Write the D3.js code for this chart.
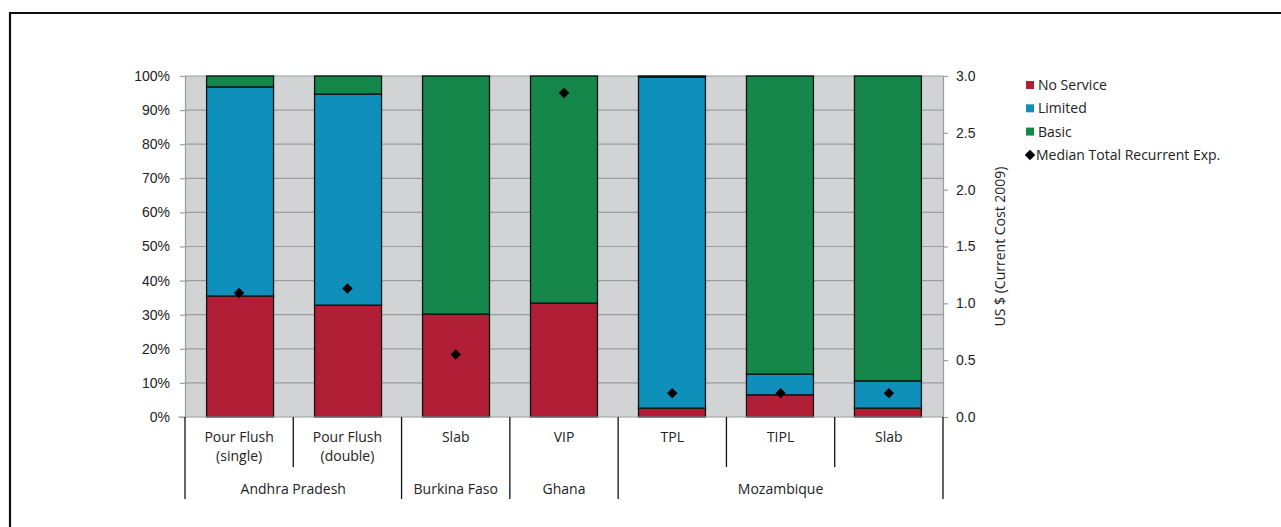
<!DOCTYPE html>
<html>
<head>
<meta charset="utf-8">
<script src="https://cdn.jsdelivr.net/npm/d3@7"></script>
<style>
  html, body { margin: 0; padding: 0; background: #fff; }
  svg { display: block; font-family: "Open Sans", "Noto Sans", sans-serif; }
</style>
</head>
<body>
<svg id="chart" width="1281" height="527"></svg>
<script>
// Sanitation service levels by latrine type, with median recurrent expenditure
const categories = ["Pour Flush\n(single)", "Pour Flush\n(double)", "Slab", "VIP", "TPL", "TIPL", "Slab"];
const regions = [
  { name: "Andhra Pradesh", from: 0, to: 2 },
  { name: "Burkina Faso", from: 2, to: 3 },
  { name: "Ghana", from: 3, to: 4 },
  { name: "Mozambique", from: 4, to: 7 }
];
const noService = [35.5, 32.8, 30.2, 33.4, 2.6, 6.5, 2.6];
const limited   = [61.3, 61.9, 0, 0, 97.1, 6.1, 8.0];
const basic     = [3.2, 5.3, 69.8, 66.6, 0.3, 87.4, 89.4];
const medianExp = [1.09, 1.13, 0.55, 2.85, 0.21, 0.21, 0.21];

const pctTicks = [0, 10, 20, 30, 40, 50, 60, 70, 80, 90, 100];
const usdTicks = [0, 0.5, 1.0, 1.5, 2.0, 2.5, 3.0];

const seriesNames = ["No Service", "Limited", "Basic"];
const colors = { "No Service": "#b01f36", "Limited": "#0f90ba", "Basic": "#15874a" };

const FS = 14;
const svg = d3.select("#chart");

// outer frame (top and left edges)
svg.append("path")
  .attr("d", "M10,527 V13 H1281")
  .attr("fill", "none").attr("stroke", "#111").attr("stroke-width", 2.2);

const plot = { left: 185, right: 943, top: 76, bottom: 417 };

const x = d3.scaleBand().domain(d3.range(categories.length))
  .range([plot.left, plot.right]).paddingInner(0.38).paddingOuter(0.2);
const xBand = d3.scaleBand().domain(d3.range(categories.length))
  .range([plot.left, plot.right]);
const yPct = d3.scaleLinear().domain([0, 100]).range([plot.bottom, plot.top]);
const yUsd = d3.scaleLinear().domain([0, 3]).range([plot.bottom, plot.top]);

// plot background
svg.append("rect")
  .attr("x", plot.left).attr("y", plot.top)
  .attr("width", plot.right - plot.left).attr("height", plot.bottom - plot.top)
  .attr("fill", "#d2d3d5");

// gridlines
svg.append("g").selectAll("line").data(pctTicks.filter(d => d > 0))
  .join("line")
  .attr("x1", plot.left).attr("x2", plot.right)
  .attr("y1", d => yPct(d)).attr("y2", d => yPct(d))
  .attr("stroke", "#9c9d9f").attr("stroke-width", 1.2);

// stacked bars
const rows = categories.map((c, i) => ({
  i, "No Service": noService[i], "Limited": limited[i], "Basic": basic[i]
}));
const stacked = d3.stack().keys(seriesNames)(rows);

svg.append("g").selectAll("g").data(stacked).join("g")
  .attr("fill", s => colors[s.key])
  .selectAll("rect").data(s => s.filter(d => d[1] - d[0] > 0))
  .join("rect")
  .attr("x", d => x(d.data.i))
  .attr("width", x.bandwidth())
  .attr("y", d => yPct(d[1]))
  .attr("height", d => yPct(d[0]) - yPct(d[1]))
  .attr("stroke", "#111").attr("stroke-width", 1.3);

// left axis
const leftAxis = svg.append("g").attr("transform", `translate(${plot.left},0)`)
  .call(d3.axisLeft(yPct).tickValues(pctTicks).tickFormat(d => d + "%").tickSize(5).tickPadding(10));
leftAxis.select(".domain").attr("stroke", "#9c9d9f").attr("stroke-width", 1.2);
leftAxis.selectAll(".tick line").attr("stroke", "#9c9d9f").attr("stroke-width", 1.2);
leftAxis.selectAll("text").attr("font-size", FS).attr("fill", "#222");

// right axis
const rightAxis = svg.append("g").attr("transform", `translate(${plot.right},0)`)
  .call(d3.axisRight(yUsd).tickValues(usdTicks).tickFormat(d3.format(".1f")).tickSize(5).tickPadding(8));
rightAxis.select(".domain").attr("stroke", "#9c9d9f").attr("stroke-width", 1.2);
rightAxis.selectAll(".tick line").attr("stroke", "#9c9d9f").attr("stroke-width", 1.2);
rightAxis.selectAll("text").attr("font-size", FS).attr("fill", "#222");

svg.append("text")
  .attr("transform", `translate(1005,${(plot.top + plot.bottom) / 2}) rotate(-90)`)
  .attr("text-anchor", "middle")
  .attr("font-size", FS).attr("fill", "#222")
  .text("US $ (Current Cost 2009)");

// median expenditure markers
const diamond = d3.symbol().type(d3.symbolDiamond2).size(70);
svg.append("g").selectAll("path").data(medianExp).join("path")
  .attr("transform", (d, i) => `translate(${xBand(i) + xBand.bandwidth() / 2},${yUsd(d)})`)
  .attr("d", diamond)
  .attr("fill", "#000");

// category axis: baseline, separators, labels
const cat = svg.append("g");
cat.append("line")
  .attr("x1", plot.left - 7).attr("x2", plot.right)
  .attr("y1", plot.bottom).attr("y2", plot.bottom)
  .attr("stroke", "#9c9d9f").attr("stroke-width", 1.2);

const boundaries = d3.range(categories.length + 1);
const regionEdges = new Set(regions.flatMap(r => [r.from, r.to]));
cat.selectAll("line.sep").data(boundaries).join("line")
  .attr("class", "sep")
  .attr("x1", i => plot.left + i * xBand.step())
  .attr("x2", i => plot.left + i * xBand.step())
  .attr("y1", plot.bottom)
  .attr("y2", i => regionEdges.has(i) ? 499 : 467)
  .attr("stroke", "#111").attr("stroke-width", 1.3);

cat.selectAll("text.cat").data(categories).join("text")
  .attr("class", "cat")
  .attr("text-anchor", "middle")
  .attr("font-size", FS).attr("fill", "#222")
  .each(function (d, i) {
    const lines = d.split("\n");
    d3.select(this).selectAll("tspan").data(lines).join("tspan")
      .attr("x", xBand(i) + xBand.bandwidth() / 2)
      .attr("y", (l, k) => 442 + k * 19)
      .text(l => l);
  });

cat.selectAll("text.region").data(regions).join("text")
  .attr("class", "region")
  .attr("text-anchor", "middle")
  .attr("font-size", FS).attr("fill", "#222")
  .attr("x", r => plot.left + (r.from + r.to) / 2 * xBand.step())
  .attr("y", 494)
  .text(r => r.name);

// legend
const legendItems = seriesNames.map(n => ({ name: n, type: "square" }))
  .concat([{ name: "Median Total Recurrent Exp.", type: "diamond" }]);
const legend = svg.append("g").attr("transform", "translate(1030,85)");
const li = legend.selectAll("g").data(legendItems).join("g")
  .attr("transform", (d, i) => `translate(0,${i * 23.3})`);
li.filter(d => d.type === "square").append("rect")
  .attr("x", -4).attr("y", -4).attr("width", 8).attr("height", 8)
  .attr("fill", d => colors[d.name]);
li.filter(d => d.type === "diamond").append("path")
  .attr("d", d3.symbol().type(d3.symbolDiamond2).size(70))
  .attr("fill", "#000");
li.append("text")
  .attr("x", d => d.type === "diamond" ? 6 : 8)
  .attr("y", 5)
  .attr("font-size", FS).attr("fill", "#222")
  .text(d => d.name);
</script>
</body>
</html>
